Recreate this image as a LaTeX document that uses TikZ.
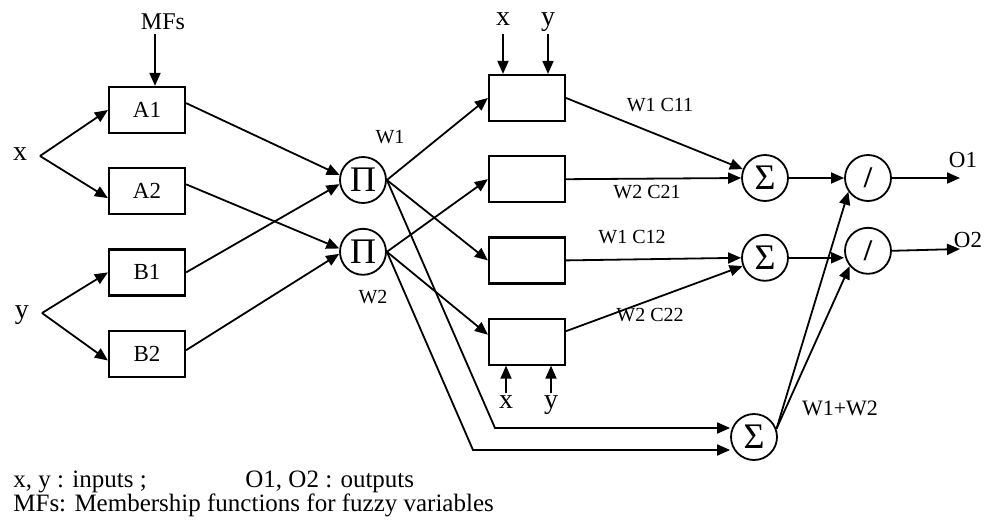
\documentclass[tikz,border=0pt]{standalone}
\usepackage{fontspec}
\setmainfont{Liberation Serif}
\usepackage{tikz}
\usetikzlibrary{arrows.meta, positioning, calc}

\begin{document}
\begin{tikzpicture}[
  x=0.5pt, y=-0.5pt,
  node distance=16.5pt and 10pt,
  box/.style={rectangle, draw, line width=1.1pt, minimum width=38pt, minimum height=23pt, inner sep=0pt, font=\fontsize{11.5}{13}\selectfont},
  op/.style={circle, draw, line width=0.9pt, minimum size=23pt, inner sep=0pt, font=\fontsize{18}{20}\selectfont},
  divop/.style={op, font=\fontsize{15}{17}\selectfont\bfseries},
  var/.style={inner sep=2pt, text height=1.2ex, text depth=.4ex, font=\fontsize{14}{16}\selectfont},
  lbl/.style={inner sep=2pt, font=\fontsize{12}{14}\selectfont},
  wlbl/.style={inner sep=1pt, font=\fontsize{10}{12}\selectfont},
  note/.style={inner sep=0pt, anchor=base west, font=\fontsize{12.5}{14}\selectfont},
  arrow/.style={-{Triangle[length=6.5pt, width=5.5pt]}, line width=0.9pt}
]
  \useasboundingbox (0,0) rectangle (986,525);

  \node[box] (a1) at (147,110) {A1};
  \node[box, below=of a1] (a2) {A2};
  \node[box, below=of a2] (b1) {B1};
  \node[box, below=of b1] (b2) {B2};

  \node[var] (xin) at (20,157) {x};
  \node[var] (yin) at (22,315) {y};
  \coordinate (xs) at (40,156);
  \coordinate (ys) at (42,313);
  \node[lbl] (mfs) at (163,22) {MFs};

  \node[op] (p1) at (363,180) {Π};
  \node[op, below=12pt of p1] (p2) {Π};
  \node[wlbl] (w1) at (390,137) {W1};
  \node[wlbl] (w2) at (373,297) {W2};

  \node[box] (r1) at (527,98) {};
  \node[box, below=of r1] (r2) {};
  \node[box, below=of r2] (r3) {};
  \node[box, below=of r3] (r4) {};

  \node[var] (xt) at (503,22) {x};
  \node[var] (yt) at (548,22) {y};
  \node[var] (xb) at (506,405) {x};
  \node[var] (yb) at (551,405) {y};

  \node[op] (s1) at (765,178) {Σ};
  \node[op, below=16pt of s1] (s2) {Σ};
  \node[op] (s3) at (754,437) {Σ};
  \node[divop] (d1) at (868,178) {/};
  \node[divop, below=12.5pt of d1] (d2) {/};

  \node[wlbl] (w11) at (660,105) {W1 C11};
  \node[wlbl] (w21) at (647,192) {W2 C21};
  \node[wlbl] (w12) at (632,237) {W1 C12};
  \node[wlbl] (w22) at (650,315) {W2 C22};
  \node[lbl, font=\fontsize{11}{13}\selectfont] (wsum) at (840,408) {W1+W2};

  \coordinate (out1) at (960,178);
  \coordinate (out2) at (960,249);
  \node[lbl, font=\fontsize{11.5}{13}\selectfont] (o1) at (963,160) {O1};
  \node[lbl, font=\fontsize{11.5}{13}\selectfont] (o2) at (968,240) {O2};

  \coordinate (k1) at (495,428);
  \coordinate (k2) at (473,450);

  \draw[arrow] ([xshift=-4pt]mfs.south) -- ([xshift=-4pt]mfs.south |- a1.north);
  \draw[arrow] (xs) -- (a1.west);
  \draw[arrow] (xs) -- (a2.190);
  \draw[arrow] (ys) -- (b1.west);
  \draw[arrow] (ys) -- (b2.190);

  \draw[arrow] (a1.10) -- (p1.168);
  \draw[arrow] (b1.east) -- (p1.190);
  \draw[arrow] (a2.10) -- (p2.172);
  \draw[arrow] (b2.5) -- (p2.185);

  \draw[arrow] (p1.east) -- (r1.west);
  \draw[arrow] (p1.east) -- (r3.west);
  \draw[arrow] (p2.east) -- (r2.west);
  \draw[arrow] (p2.east) -- (r4.170);
  \draw[arrow] (p1.east) -- (k1) -- (k1 -| s3.west);
  \draw[arrow] (p2.east) -- (k2) -- (k2 -| s3.west);

  \draw[arrow] (xt.south) -- (xt.south |- r1.north);
  \draw[arrow] (yt.south) -- (yt.south |- r1.north);
  \draw[arrow] (xb.north) -- (xb.north |- r4.south);
  \draw[arrow] (yb.north) -- (yb.north |- r4.south);

  \draw[arrow] (r1.east) -- (s1);
  \draw[arrow] (r2.east) -- (s1.west);
  \draw[arrow] (r3.east) -- (s2.west);
  \draw[arrow] (r4.15) -- (s2);

  \draw[arrow] (s1.east) -- (d1.west);
  \draw[arrow] (s2.east) -- (s2.east -| d2.west);
  \draw[arrow] (s3.20) -- (d1.215);
  \draw[arrow] (s3.20) -- (d2.220);
  \draw[arrow] (d1.east) -- (out1);
  \draw[arrow] (d2.east) -- (out2);

  \node[note] (n1) at (13,487) {x, y : inputs ;};
  \node[note] (n2) at (245,487) {O1, O2 : outputs};
  \node[note] (n3) at (13,511) {MFs: Membership functions for fuzzy variables};
\end{tikzpicture}
\end{document}
